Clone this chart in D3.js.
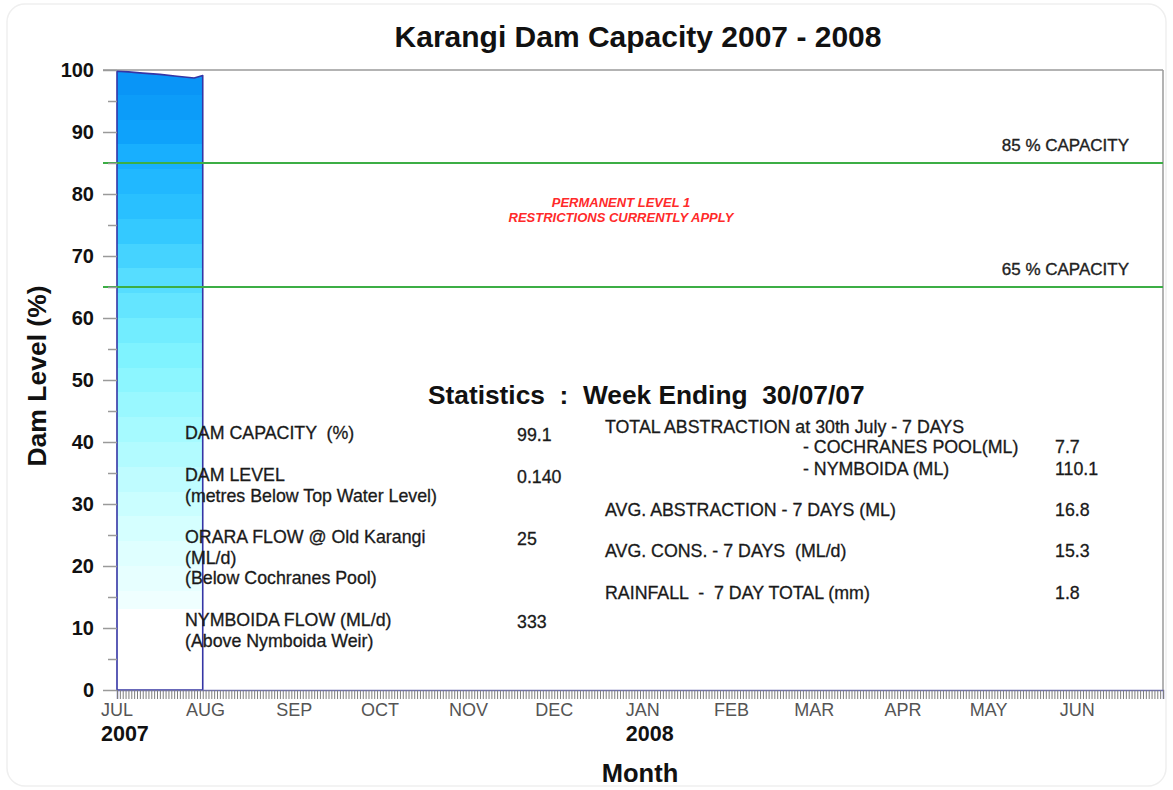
<!DOCTYPE html>
<html><head><meta charset="utf-8">
<script src="https://cdn.jsdelivr.net/npm/d3@7"></script>
<style>
body{margin:0;background:#fff}
svg{display:block;font-family:"Liberation Sans",Arial,Helvetica,sans-serif}
text.pre{white-space:pre}
</style>
</head><body><svg id="c" width="1173" height="790"></svg>
<script>
// ---------- data ----------
const dates  = ["2007-07-01","2007-07-05","2007-07-10","2007-07-16","2007-07-22","2007-07-28","2007-07-31"];
const levels = [99.8, 99.7, 99.5, 99.3, 99.0, 98.7, 99.1];
const yTicks = [0,10,20,30,40,50,60,70,80,90,100];
const yMinorTicks = [5,15,25,35,45,55,65,75,85,95];
const monthLabels = ["JUL","AUG","SEP","OCT","NOV","DEC","JAN","FEB","MAR","APR","MAY","JUN"];
const monthStarts = ["2007-07-01","2007-08-01","2007-09-01","2007-10-01","2007-11-01","2007-12-01","2008-01-01","2008-02-01","2008-03-01","2008-04-01","2008-05-01","2008-06-01"];
const yearLabels = ["2007","2008"];
const yearMonthIndex = [0,6];
const capacityLevels = [85,65];
const capacityLabels = ["85 % CAPACITY","65 % CAPACITY"];
const restrictionText = ["PERMANENT LEVEL 1","RESTRICTIONS CURRENTLY APPLY"];
const statsTitle = "Statistics  :  Week Ending  30/07/07";
const leftStatLabels = [["DAM CAPACITY  (%)"],["DAM LEVEL","(metres Below Top Water Level)"],["ORARA FLOW @ Old Karangi","(ML/d)","(Below Cochranes Pool)"],["NYMBOIDA FLOW (ML/d)","(Above Nymboida Weir)"]];
const leftStatValues = ["99.1","0.140","25","333"];
const rightStatHeader = "TOTAL ABSTRACTION at 30th July - 7 DAYS";
const rightSubLabels = ["- COCHRANES POOL(ML)","- NYMBOIDA (ML)"];
const rightSubValues = ["7.7","110.1"];
const rightStatLabels = ["AVG. ABSTRACTION - 7 DAYS (ML)","AVG. CONS. - 7 DAYS  (ML/d)","RAINFALL  -  7 DAY TOTAL (mm)"];
const rightStatValues = ["16.8","15.3","1.8"];

// ---------- layout ----------
const svg = d3.select("#c");
const parse = d3.timeParse("%Y-%m-%d");
const L = 117, R = 1163, T = 70, B = 690;
const x = d3.scaleTime().domain([parse("2007-07-01"), parse("2008-07-01")]).range([L, R]);
const y = d3.scaleLinear().domain([0,100]).range([B, T]);
const series = dates.map((d,i)=>({date:parse(d), v:levels[i]}));

// faint outer border
svg.append("rect").attr("x",7).attr("y",4).attr("width",1159).attr("height",782)
  .attr("rx",18).attr("fill","none").attr("stroke","#efefef").attr("stroke-width",1.5);

// banded gradient
const defs = svg.append("defs");
const grad = defs.append("linearGradient").attr("id","g").attr("gradientUnits","userSpaceOnUse")
  .attr("x1",0).attr("x2",0).attr("y1",y(100)).attr("y2",y(0));
const colorAt = d3.scaleLinear().domain([100,90,85,75,65,55,45,35,25,13])
  .range(["#0892f6","#0ea2fb","#1ab2ff","#30c6ff","#5ae0ff","#7cf2ff","#9cf9ff","#bcfcff","#d8ffff","#f2ffff"])
  .interpolate(d3.interpolateRgb);
const step = 4;
for (let v = 100; v > 13; v -= step) {
  const next = Math.max(v-step, 13);
  const c = colorAt((v+next)/2);
  grad.append("stop").attr("offset",(100-v)/100).attr("stop-color",c);
  grad.append("stop").attr("offset",(100-next)/100).attr("stop-color",c);
}
grad.append("stop").attr("offset",(100-13)/100).attr("stop-color","#ffffff");
grad.append("stop").attr("offset",1).attr("stop-color","#ffffff");

// top gridline & right border
svg.append("line").attr("x1",103).attr("x2",R).attr("y1",y(100)).attr("y2",y(100)).attr("stroke","#9a9a9a").attr("stroke-width",1.5);
svg.append("line").attr("x1",R).attr("x2",R).attr("y1",y(100)).attr("y2",y(0)).attr("stroke","#9a9a9a").attr("stroke-width",1.5);

// area
const area = d3.area().x(d=>x(d.date)).y0(y(0)).y1(d=>y(d.v));
svg.append("path").datum(series).attr("d",area).attr("fill","url(#g)")
  .attr("stroke","#3535a5").attr("stroke-width",1.6).attr("stroke-linejoin","round");

// capacity lines
capacityLevels.forEach((c,i)=>{
  svg.append("line").attr("x1",103).attr("x2",R).attr("y1",y(c)).attr("y2",y(c))
    .attr("stroke","#3cae45").attr("stroke-width",2);
  svg.append("text").attr("x",1129).attr("y",y(c)-12).attr("text-anchor","end")
    .attr("font-size",17).attr("fill","#222").attr("stroke","#222").attr("stroke-width",0.35)
    .text(capacityLabels[i]);
});

// restriction text
restrictionText.forEach((t,i)=>{
  svg.append("text").attr("x",621).attr("y",207+i*15).attr("text-anchor","middle")
    .attr("font-size",13).attr("font-weight","bold").attr("font-style","italic").attr("fill","#ff2a2a").text(t);
});

// y axis
const yAxis = d3.axisLeft(y).tickValues(yTicks).tickSize(14).tickPadding(9);
const gy = svg.append("g").attr("transform",`translate(${L},0)`).call(yAxis);
gy.select(".domain").remove();
gy.selectAll(".tick line").attr("stroke","#9a9a9a").attr("stroke-width",1.5);
gy.selectAll(".tick text").attr("font-size",20).attr("font-weight","bold").attr("fill","#111")
  .attr("font-family","'Liberation Sans',Arial,sans-serif");
const gym = svg.append("g").attr("transform",`translate(${L},0)`)
  .call(d3.axisLeft(y).tickValues(yMinorTicks).tickSize(9).tickFormat(""));
gym.select(".domain").remove();
gym.selectAll(".tick line").attr("stroke","#9a9a9a").attr("stroke-width",1.5);

// x axis daily ticks
const gx = svg.append("g").attr("transform",`translate(0,${B})`)
  .call(d3.axisBottom(x).ticks(d3.timeDay.every(1)).tickSize(9).tickFormat(""));
gx.select(".domain").attr("stroke","#6f6fb5").attr("stroke-width",1.5);
gx.selectAll(".tick line").attr("stroke","#7d7d7d").attr("stroke-width",1);

// month labels
const mlabels = svg.append("g").selectAll("text").data(monthLabels).join("text")
  .attr("x",(d,i)=>x(parse(monthStarts[i]))).attr("y",716).attr("text-anchor","middle")
  .attr("font-size",18).attr("fill","#555").text(d=>d);
const mnodes = mlabels.nodes();
yearLabels.forEach((t,i)=>{
  const mi = yearMonthIndex[i];
  const w = mnodes[mi].getComputedTextLength();
  svg.append("text").attr("x",x(parse(monthStarts[mi]))-w/2).attr("y",741)
    .attr("font-size",21.5).attr("font-weight","bold").attr("fill","#111").text(t);
});

// titles
svg.append("text").attr("x",638).attr("y",47).attr("text-anchor","middle")
  .attr("font-size",30).attr("font-weight","bold").attr("fill","#111").text("Karangi Dam Capacity 2007 - 2008");
svg.append("text").attr("transform","translate(46,376) rotate(-90)").attr("text-anchor","middle")
  .attr("font-size",26.5).attr("font-weight","bold").attr("fill","#111").text("Dam Level (%)");
svg.append("text").attr("x",640).attr("y",782).attr("text-anchor","middle")
  .attr("font-size",25.5).attr("font-weight","bold").attr("fill","#111").text("Month");

// stats
svg.append("text").attr("class","pre").attr("x",428).attr("y",404)
  .attr("font-size",26.3).attr("font-weight","bold").attr("fill","#111").text(statsTitle);

const fs = 17.8, lh = 20.5;
const ink = "#1a1a1a";
function stat(xp, yp, t) {
  return svg.append("text").attr("class","pre").attr("x",xp).attr("y",yp).attr("dy","0.35em")
    .attr("font-size",fs).attr("fill",ink).attr("stroke",ink).attr("stroke-width",0.3).text(t);
}
const leftRowY = [433,475,537,620];
leftStatLabels.forEach((lines,i)=>{
  lines.forEach((ln,j)=> stat(185, leftRowY[i]+j*lh, ln));
  stat(517, leftRowY[i]+2, leftStatValues[i]);
});
stat(605, 427, rightStatHeader);
const subY = [447,469];
rightSubLabels.forEach((t,i)=>{ stat(803, subY[i], t); stat(1055, subY[i], rightSubValues[i]); });
const rightRowY = [510,551,593];
rightStatLabels.forEach((t,i)=>{ stat(605, rightRowY[i], t); stat(1055, rightRowY[i], rightStatValues[i]); });
</script>
</body></html>
